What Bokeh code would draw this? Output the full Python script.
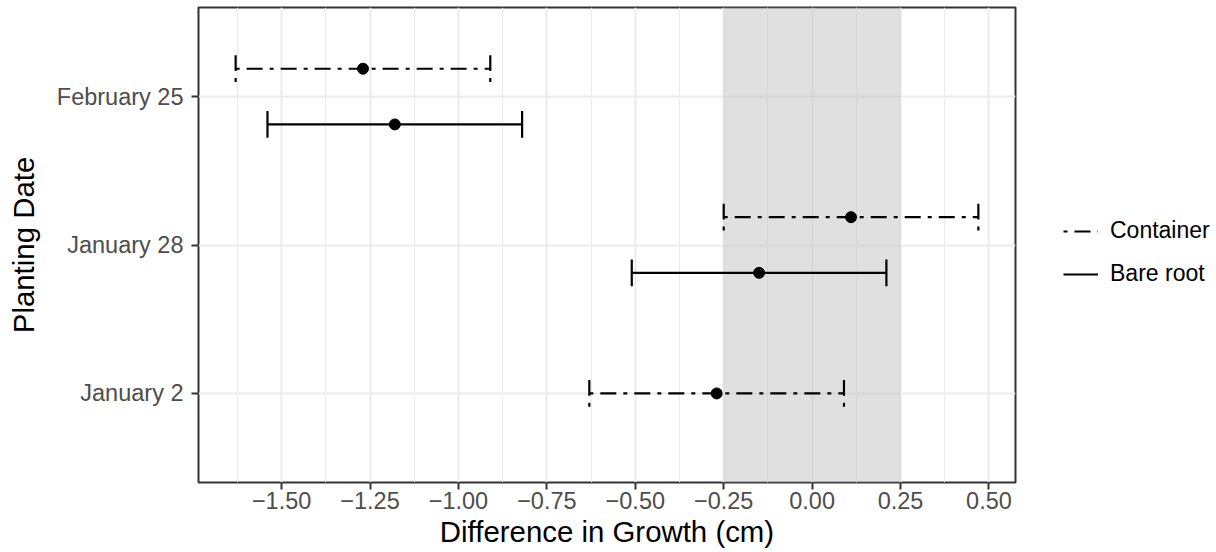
from bokeh.plotting import figure
from bokeh.layouts import row
from bokeh.models import (Range1d, FixedTicker, BoxAnnotation, Legend, LegendItem,
                          ColumnDataSource)
from bokeh.embed import file_html
from bokeh.resources import INLINE

# ---- data ----
dates = ["January 2", "January 28", "February 25"]
groups = ["Container", "Bare root"]
container_est = [-0.27, 0.11, -1.27]
container_lo = [-0.63, -0.25, -1.63]
container_hi = [0.09, 0.47, -0.91]
bare_est = [None, -0.15, -1.18]
bare_lo = [None, -0.51, -1.54]
bare_hi = [None, 0.21, -0.82]
x_ticks = [-1.5, -1.25, -1.0, -0.75, -0.5, -0.25, 0.0, 0.25, 0.5]
x_tick_labels = ["\u22121.50", "\u22121.25", "\u22121.00", "\u22120.75", "\u22120.50",
                 "\u22120.25", "0.00", "0.25", "0.50"]
shade_lo, shade_hi = -0.25, 0.25

# ---- styles ----
FONT = "Liberation Sans"
DODGE = 0.1875
CAP = 0.09
dashes = {"Container": "4 7 16 7", "Bare root": "solid"}

series = {
    "Container": (container_est, container_lo, container_hi),
    "Bare root": (bare_est, bare_lo, bare_hi),
}

def build(group):
    est, lo, hi = series[group]
    ys, e, l, h = [], [], [], []
    for i, d in enumerate(dates):
        if est[i] is None:
            continue
        present = [g for g in groups if series[g][0][i] is not None]
        if len(present) == 1:
            off = 0.0
        else:
            off = DODGE if group == "Container" else -DODGE
        ys.append(i + 1 + off)
        e.append(est[i]); l.append(lo[i]); h.append(hi[i])
    return ColumnDataSource(dict(y=ys, est=e, lo=l, hi=h,
                                 cap0=[y - CAP for y in ys], cap1=[y + CAP for y in ys]))

all_lo = [v for v in container_lo + bare_lo if v is not None]
all_hi = [v for v in container_hi + bare_hi if v is not None]
xmin, xmax = min(all_lo), max(all_hi)
pad = 0.05 * (xmax - xmin)

p = figure(width=1017, height=552,
           x_range=Range1d(xmin - pad, xmax + pad),
           y_range=Range1d(0.4, len(dates) + 0.6),
           output_backend="svg", toolbar_location=None,
           min_border_left=198, min_border_right=2, min_border_top=7, min_border_bottom=70)

p.outline_line_color = "#333333"
p.outline_line_width = 2

p.xaxis.ticker = FixedTicker(ticks=x_ticks,
                             minor_ticks=[t - 0.125 for t in x_ticks] + [x_ticks[-1] + 0.125])
p.xaxis.major_label_overrides = {t: s for t, s in zip(x_ticks, x_tick_labels)}
p.yaxis.ticker = FixedTicker(ticks=list(range(1, len(dates) + 1)))
p.yaxis.major_label_overrides = {i + 1: d for i, d in enumerate(dates)}

for ax in (p.xaxis[0], p.yaxis[0]):
    ax.axis_line_color = None
    ax.major_tick_line_color = "#333333"
    ax.major_tick_line_width = 2
    ax.major_tick_out = 7
    ax.major_tick_in = 0
    ax.minor_tick_out = 0
    ax.minor_tick_in = 0
    ax.major_label_text_font = FONT
    ax.major_label_text_font_size = "23.5px"
    ax.major_label_text_color = "#4D4D4D"
    ax.axis_label_text_font = FONT
    ax.axis_label_text_font_size = "29.4px"
    ax.axis_label_text_color = "black"
    ax.axis_label_text_font_style = "normal"

p.xaxis.axis_label = "Difference in Growth (cm)"
p.xaxis.major_label_standoff = 2
p.xaxis.axis_label_standoff = 3
p.yaxis.axis_label = "Planting Date"
p.yaxis.major_label_standoff = 8
p.yaxis.axis_label_standoff = 14

p.xgrid.grid_line_color = "#EBEBEB"
p.xgrid.grid_line_width = 2
p.xgrid.minor_grid_line_color = "#EBEBEB"
p.xgrid.minor_grid_line_width = 1
p.ygrid.grid_line_color = "#EBEBEB"
p.ygrid.grid_line_width = 2

box = BoxAnnotation(left=shade_lo, right=shade_hi, fill_color="#C2C2C2", fill_alpha=0.5,
                    line_color=None, level="underlay")
p.add_layout(box)

# legend panel (separate figure to the right); its ranges keep the key renderers off-screen
pl = figure(width=199, height=552, x_range=Range1d(0, 1), y_range=Range1d(10, 11),
            output_backend="svg", toolbar_location=None,
            x_axis_type=None, y_axis_type=None,
            min_border_left=0, min_border_right=0, min_border_top=0, min_border_bottom=0)
pl.outline_line_color = None
pl.grid.visible = False

items = []
for g in groups:
    src = build(g)
    kw = dict(line_color="black", line_width=2.2, line_dash=dashes[g], line_cap="butt")
    p.segment(x0="lo", y0="y", x1="hi", y1="y", source=src, **kw)
    p.segment(x0="lo", y0="cap0", x1="lo", y1="cap1", source=src, **kw)
    p.segment(x0="hi", y0="cap0", x1="hi", y1="cap1", source=src, **kw)
    p.scatter(x="est", y="y", source=src, size=11, color="black")
    key = pl.segment(x0="lo", y0="y", x1="hi", y1="y", source=src, **kw)
    items.append(LegendItem(label=g, renderers=[key]))

legend = Legend(items=items, location=(46, 195), padding=0, margin=0,
                border_line_color=None, background_fill_alpha=0,
                glyph_width=35, glyph_height=20, label_standoff=12, spacing=16,
                label_text_font=FONT, label_text_font_size="23px", label_text_color="black")
pl.add_layout(legend)

layout = row(p, pl, spacing=0)
open("out.html", "w").write(file_html(layout, INLINE))
